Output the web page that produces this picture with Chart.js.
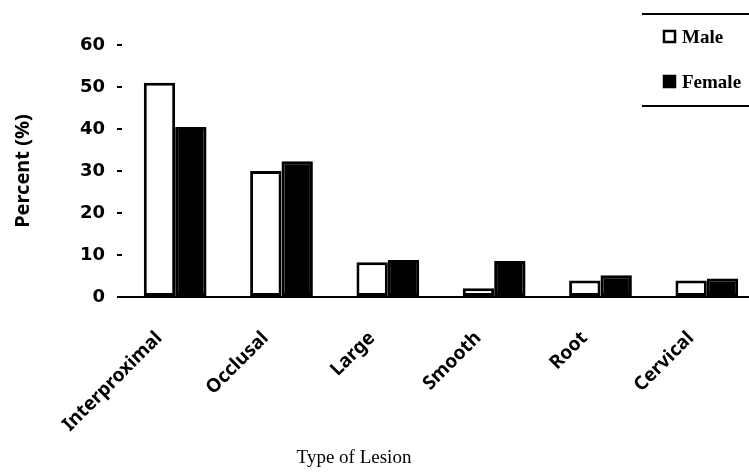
<!DOCTYPE html>
<html>
<head>
<meta charset="utf-8">
<script src="https://cdn.jsdelivr.net/npm/chart.js@4"></script>
<style>
  html, body { margin: 0; padding: 0; background: #fff; overflow: hidden; }
  #wrap { width: 760px; height: 473px; position: relative; }
</style>
</head>
<body>
<div id="wrap"><canvas id="c"></canvas></div>
<script>
// Lesion types and the share (%) of each among male and female patients
const categories = ['Interproximal', 'Occlusal', 'Large', 'Smooth', 'Root', 'Cervical'];
const maleValues = [51, 30, 8.3, 2.1, 3.9, 3.9];
const femaleValues = [40.5, 32.3, 8.8, 8.6, 5.2, 4.4];
const seriesNames = ['Male', 'Female'];
const yTickValues = [0, 10, 20, 30, 40, 50, 60];
const xAxisTitle = 'Type of Lesion';
const yAxisTitle = 'Percent (%)';

// Boxed legend in the top-right corner, ruled above and below
const boxLegend = {
  id: 'boxLegend',
  afterDraw(chart) {
    const ctx = chart.ctx;
    ctx.save();
    ctx.strokeStyle = '#000';
    ctx.lineWidth = 2;
    ctx.beginPath();
    ctx.moveTo(642, 14); ctx.lineTo(chart.width, 14);
    ctx.moveTo(642, 106); ctx.lineTo(chart.width, 106);
    ctx.stroke();
    ctx.font = 'bold 19px "Liberation Serif"';
    ctx.textAlign = 'left';
    ctx.textBaseline = 'alphabetic';
    chart.data.datasets.forEach((ds, i) => {
      const y = 31 + i * 45;
      ctx.fillStyle = ds.backgroundColor;
      ctx.fillRect(664, y, 11, 11);
      ctx.strokeStyle = '#000';
      ctx.lineWidth = 2.5;
      ctx.strokeRect(664, y, 11, 11);
      ctx.fillStyle = '#000';
      ctx.fillText(ds.label, 682, y + 12);
    });
    ctx.restore();
  }
};

// Axis title under the rotated category names
const xTitlePlugin = {
  id: 'xTitlePlugin',
  afterDraw(chart) {
    const ctx = chart.ctx;
    ctx.save();
    ctx.font = '19px "Liberation Serif"';
    ctx.fillStyle = '#000';
    ctx.textAlign = 'center';
    ctx.textBaseline = 'alphabetic';
    ctx.fillText(xAxisTitle, 354, 463);
    ctx.restore();
  }
};

new Chart(document.getElementById('c'), {
  type: 'bar',
  data: {
    labels: categories,
    datasets: [
      {
        label: seriesNames[0],
        data: maleValues,
        backgroundColor: '#ffffff',
        borderColor: '#000000',
        borderWidth: 3,
        borderSkipped: false
      },
      {
        label: seriesNames[1],
        data: femaleValues,
        backgroundColor: '#000000',
        borderColor: '#000000',
        borderWidth: 3,
        borderSkipped: false
      }
    ]
  },
  options: {
    responsive: true,
    maintainAspectRatio: false,
    animation: false,
    devicePixelRatio: 1,
    layout: { padding: { top: 45, left: 0, right: 0, bottom: 0 } },
    datasets: { bar: { barPercentage: 1.0, categoryPercentage: 0.59 } },
    plugins: {
      legend: { display: false },
      tooltip: { enabled: false }
    },
    scales: {
      x: {
        grid: { display: false },
        border: { display: true, color: '#000', width: 2 },
        ticks: {
          color: '#000',
          font: { family: '"Noto Sans"', size: 19, weight: 'bold' },
          minRotation: 45,
          maxRotation: 45,
          labelOffset: -16,
          padding: 22
        },
        afterFit(scale) { scale.height = 176; }
      },
      y: {
        min: 0,
        max: 60,
        afterBuildTicks(scale) { scale.ticks = yTickValues.map(v => ({ value: v })); },
        grid: {
          drawOnChartArea: false,
          drawTicks: true,
          tickLength: 5,
          lineWidth: 2,
          color: '#000'
        },
        border: { display: false },
        ticks: {
          color: '#000',
          font: { family: '"DejaVu Sans"', size: 18, weight: 'bold' },
          padding: 12
        },
        title: {
          display: true,
          text: yAxisTitle,
          color: '#000',
          font: { family: '"Noto Sans"', size: 20, weight: 'bold' },
          padding: { top: 11, bottom: 0 }
        },
        afterFit(scale) { scale.width = 122; }
      }
    }
  },
  plugins: [boxLegend, xTitlePlugin]
});
</script>
</body>
</html>
